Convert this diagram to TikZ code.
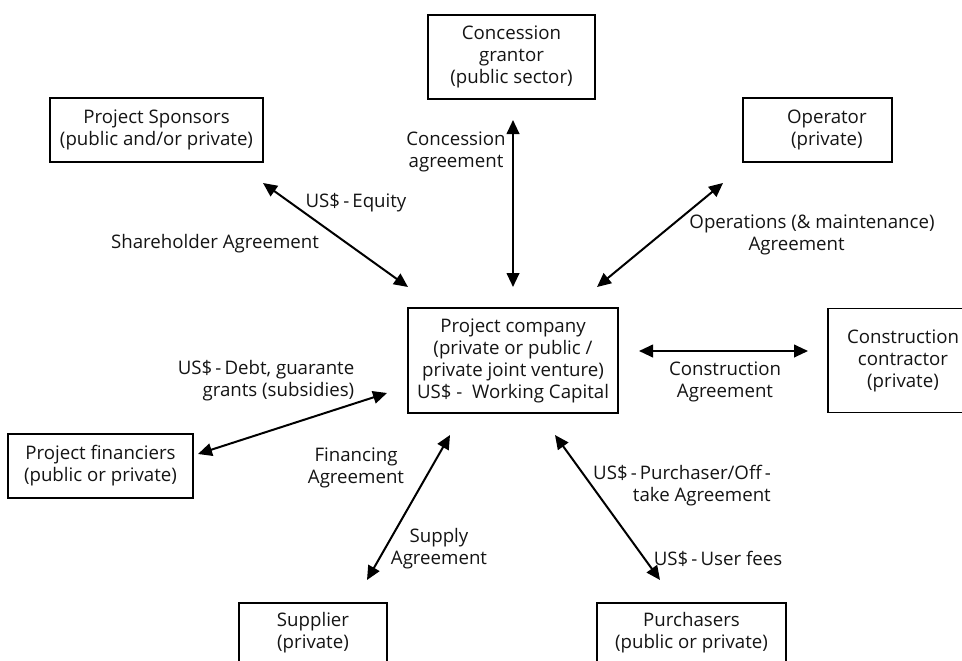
\documentclass[tikz,border=0pt]{standalone}
\usepackage{fontspec}
\setmainfont{Open Sans}
\usetikzlibrary{arrows.meta}
\newdimen\px
\px=0.75pt
\newcommand\dgfont{\fontsize{14}{16.5}\selectfont}
\begin{document}
\begin{tikzpicture}[x=0.75pt,y=-0.75pt,
  party/.style={draw=black, line width=1.1pt, align=center, inner sep=0pt,
                font=\dgfont, text=black!92},
  tag/.style={align=center, inner sep=0pt, font=\dgfont, text=black!92},
  link/.style={{Triangle[length=10.5pt,width=9.5pt]}-{Triangle[length=10.5pt,width=9.5pt]},
               line width=1.5pt, draw=black}]
\useasboundingbox (0,0) rectangle (962,660);
\clip (0,0) rectangle (962,660);

% parties
\node[party, minimum width=167\px, minimum height=84\px] (grantor) at (511.5,57)
  {Concession\\grantor\\(public sector)};
\node[party, minimum width=213\px, minimum height=64\px] (sponsors) at (156.5,130)
  {Project Sponsors\\(public and/or private)};
\node[party, minimum width=149\px, minimum height=64\px] (operator) at (817.5,130)
  {\hspace*{14pt}Operator\\\hspace*{14pt}(private)};
\node[party, minimum width=210\px, minimum height=105\px] (company) at (513,360.5)
  {Project company\\(private or public /\\private joint venture)\\US\$ -~ Working Capital};
\node[party, minimum width=150\px, minimum height=104\px] (contractor) at (903,360.5)
  {Construction\\contractor\\(private)};
\node[party, minimum width=185\px, minimum height=64\px] (financiers) at (100.5,466)
  {Project financiers\\(public or private)};
\node[party, minimum width=148\px, minimum height=60\px] (supplier) at (313,633)
  {Supplier\\(private)};
\node[party, minimum width=189\px, minimum height=60\px] (purchasers) at (691.5,633)
  {Purchasers\\(public or private)};

% arrow end points
\coordinate (s1) at (263,183);  \coordinate (s2) at (408,287);
\coordinate (g1) at (513,120);  \coordinate (g2) at (513,287);
\coordinate (o1) at (723,183);  \coordinate (o2) at (597,287);
\coordinate (c1) at (639,351);  \coordinate (c2) at (808,351);
\coordinate (f1) at (198,454);  \coordinate (f2) at (387,393);
\coordinate (p1) at (450,435);  \coordinate (p2) at (367,580);
\coordinate (q1) at (555,435);  \coordinate (q2) at (660,580);

% agreements
\draw[link] (s1) -- (s2);
\draw[link] (g1) -- (g2);
\draw[link] (o1) -- (o2);
\draw[link] (c1) -- (c2);
\draw[link] (f1) -- (f2);
\draw[link] (p1) -- (p2);
\draw[link] (q1) -- (q2);

% labels
\node[tag] (lgrant) at (456,152) {Concession\\agreement};
\node[tag] (lequity) at (356,203) {US\$\,-\,Equity};
\node[tag] (lshare) at (215,244) {Shareholder Agreement};
\node[tag] (loper) at (812,235) {Operations (\&~maintenance)\\Agreement\hspace*{23pt}};
\node[tag] (lconstr) at (725,382) {Construction\\Agreement};
\node[tag, align=right] (ldebt) at (266,381) {US\$\,-\,Debt, guarante\\grants (subsidies)};
\node[tag] (lfin) at (356,468) {Financing\\Agreement};
\node[tag] (lsupply) at (439,549) {Supply\\Agreement};
\node[tag, align=right] (lpurch) at (682,486) {US\$\,-\,Purchaser/Off\,-\\take Agreement};
\node[tag] (lfees) at (718,559) {US\$\,-\,User fees};
\end{tikzpicture}
\end{document}
